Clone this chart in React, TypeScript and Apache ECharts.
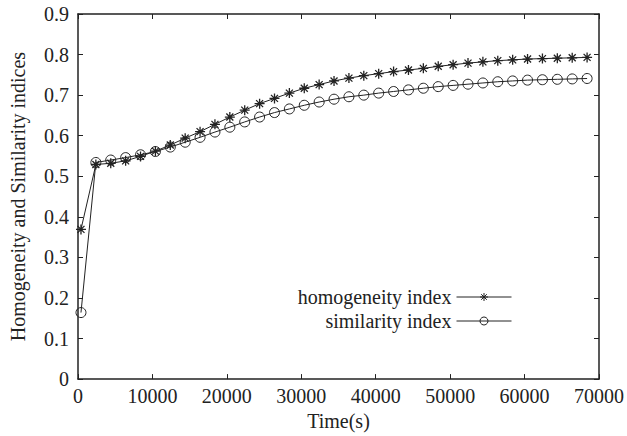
import React, { useEffect, useRef } from "react";
import * as echarts from "echarts";

const times = [400, 2400, 4400, 6400, 8400, 10400, 12400, 14400, 16400, 18400, 20400, 22400, 24400, 26400, 28400, 30400, 32400, 34400, 36400, 38400, 40400, 42400, 44400, 46400, 48400, 50400, 52400, 54400, 56400, 58400, 60400, 62400, 64400, 66400, 68400];

const homogeneity = [0.369, 0.529, 0.532, 0.538, 0.549, 0.562, 0.577, 0.594, 0.610, 0.628, 0.646, 0.663, 0.679, 0.692, 0.705, 0.717, 0.726, 0.735, 0.742, 0.748, 0.753, 0.758, 0.762, 0.766, 0.771, 0.775, 0.779, 0.782, 0.785, 0.787, 0.789, 0.790, 0.791, 0.792, 0.793];

const similarity = [0.164, 0.534, 0.540, 0.546, 0.553, 0.561, 0.572, 0.584, 0.596, 0.609, 0.621, 0.634, 0.646, 0.657, 0.666, 0.675, 0.683, 0.690, 0.696, 0.700, 0.705, 0.709, 0.713, 0.717, 0.721, 0.724, 0.727, 0.730, 0.733, 0.735, 0.737, 0.738, 0.739, 0.740, 0.741];

const seriesNames = ["homogeneity index", "similarity index"];

const STAR = "path://M0,-10L0,10M-10,0L10,0M-7,-7L7,7M-7,7L7,-7";
const FONT = "'Liberation Serif', 'DejaVu Serif', 'Times New Roman', serif";
const INK = "#222";

export default function App() {
  const ref = useRef<HTMLDivElement>(null);
  useEffect(() => {
    if (!ref.current) return;
    const chart = echarts.init(ref.current, null, { renderer: "svg" });
    const axisCommon = {
      axisLine: { show: true, onZero: false, lineStyle: { color: INK, width: 1.5 } },
      axisTick: { show: true, inside: true, length: 5, lineStyle: { color: INK, width: 1 } },
      splitLine: { show: false },
    };
    chart.setOption({
      animation: false,
      backgroundColor: "#fff",
      grid: { left: 77, right: 24, top: 14, bottom: 56, containLabel: false },
      legend: {
        data: seriesNames,
        orient: "vertical",
        align: "right",
        right: 115,
        top: 287,
        padding: 0,
        itemWidth: 55,
        itemHeight: 10,
        itemGap: 4,
        lineStyle: { width: 1 },
        itemStyle: { borderWidth: 1 },
        textStyle: { fontFamily: FONT, fontSize: 20, color: INK },
      },
      xAxis: [
        {
          type: "value",
          min: 0,
          max: 70000,
          interval: 10000,
          name: "Time(s)",
          nameLocation: "middle",
          nameGap: 27,
          nameTextStyle: { fontFamily: FONT, fontSize: 20, color: INK },
          axisLabel: {
            fontFamily: FONT,
            fontSize: 20,
            color: INK,
            margin: 7,
            formatter: (v: number) => String(v),
          },
          ...axisCommon,
        },
        {
          type: "value",
          position: "top",
          min: 0,
          max: 70000,
          interval: 10000,
          axisLabel: { show: false },
          ...axisCommon,
        },
      ],
      yAxis: [
        {
          type: "value",
          min: 0,
          max: 0.9,
          interval: 0.1,
          name: "Homogeneity and Similarity indices",
          nameLocation: "middle",
          nameGap: 50,
          nameTextStyle: { fontFamily: FONT, fontSize: 20, color: INK },
          axisLabel: {
            fontFamily: FONT,
            fontSize: 20,
            color: INK,
            margin: 9,
            formatter: (v: number) => (v === 0 ? "0" : v.toFixed(1)),
          },
          ...axisCommon,
        },
        {
          type: "value",
          position: "right",
          min: 0,
          max: 0.9,
          interval: 0.1,
          axisLabel: { show: false },
          ...axisCommon,
        },
      ],
      series: [
        {
          name: seriesNames[0],
          type: "line",
          data: times.map((t, i) => [t, homogeneity[i]]),
          symbol: STAR,
          symbolSize: 10,
          showAllSymbol: true,
          lineStyle: { color: INK, width: 1 },
          itemStyle: { color: "transparent", borderColor: INK, borderWidth: 1.3 },
        },
        {
          name: seriesNames[1],
          type: "line",
          data: times.map((t, i) => [t, similarity[i]]),
          symbol: "circle",
          symbolSize: 10,
          showAllSymbol: true,
          lineStyle: { color: INK, width: 1 },
          itemStyle: { color: "transparent", borderColor: INK, borderWidth: 1 },
        },
      ],
    });
    return () => chart.dispose();
  }, []);
  return (
    <div
      ref={ref}
      style={{ position: "fixed", left: 0, top: 0, width: 627, height: 436 }}
    />
  );
}
